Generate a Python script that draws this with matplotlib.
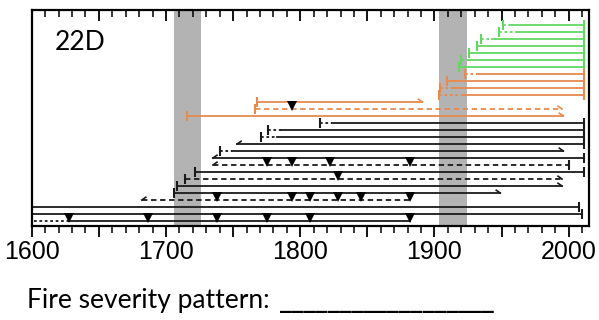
import matplotlib
matplotlib.use('Agg')
import matplotlib.pyplot as plt
from matplotlib.ticker import MultipleLocator, FuncFormatter

# one entry per tree, top row first
inner_year = [1951, 1948, 1935, 1932, 1926, 1920, 1918,
              1923, 1909, 1904, 1903, 1768, 1766, 1716,
              1815, 1776, 1771, 1753, 1740, 1735, 1735, 1722, 1714, 1708, 1706, 1682,
              1600, 1600, 1602]
first_ring = [1956, 1962, 1943, 1932, 1926, 1926, 1918,
              1932, 1909, 1914, 1921, 1768, 1766, 1716,
              1824, 1786, 1783, 1753, 1749, 1735, 1735, 1722, 1714, 1708, 1706, 1682,
              1600, 1600, 1628]
end_year = [2011, 2011, 2011, 2011, 2011, 2011, 2011,
            2011, 2011, 2011, 2011, 1891, 1995, 1996,
            2011, 2011, 2011, 2011, 1996, 2011, 2000, 2011, 1995, 1995, 1949, 1882,
            2008, 2010, 1882]
inner_type = ['pith'] * 17 + ['ring', 'pith', 'ring', 'ring', 'pith', 'pith', 'pith', 'pith', 'ring',
                               'none', 'none', 'none']
end_type = ['bark'] * 11 + ['ring', 'ring', 'ring',
                            'bark', 'bark', 'bark', 'bark', 'ring', 'bark', 'bark', 'bark', 'ring', 'ring',
                            'ring', 'none', 'bark', 'bark', 'none']
dashed = [False] * 12 + [True] + [False] * 7 + [True, False, True, False, False, True, False, False, False]
group = ['green'] * 7 + ['orange'] * 7 + ['black'] * 15

fire_scars = {
    12: [1794],
    20: [1775, 1794, 1822, 1882],
    22: [1828],
    25: [1738, 1794, 1807, 1828, 1845, 1882],
    28: [1628, 1687, 1738, 1775, 1807, 1882],
}
fire_years = [(1706, 1726), (1903, 1924)]

colors = {'green': '#62d862', 'orange': '#e88a4e', 'black': '#1a1a1a'}

fig = plt.figure(figsize=(5.99, 3.2), dpi=100)
ax = fig.add_axes([0.0529, 0.29375, 0.9309, 0.675])

for a, b in fire_years:
    ax.axvspan(a, b, color='#b3b3b3', lw=0, zorder=0)

n = len(inner_year)
for i in range(n):
    y = n - i
    c = colors[group[i]]
    lw = 1.3
    if first_ring[i] > inner_year[i]:
        ax.plot([inner_year[i], first_ring[i]], [y, y], color=c, lw=lw, ls=(0, (1.5, 1.5)))
    ax.plot([first_ring[i], end_year[i]], [y, y], color=c, lw=lw,
            ls=(0, (3, 2)) if dashed[i] else '-')
    if inner_type[i] == 'pith':
        ax.plot(inner_year[i], y, marker='|', ms=7, mew=1.5, color=c)
    elif inner_type[i] == 'ring':
        ax.plot([inner_year[i], inner_year[i] + 3], [y, y + 0.4], color=c, lw=1.2)
    if end_type[i] == 'bark':
        ax.plot(end_year[i], y, marker='|', ms=7, mew=1.5, color=c)
    elif end_type[i] == 'ring':
        ax.plot([end_year[i] - 3, end_year[i]], [y + 0.4, y], color=c, lw=1.2)
    for s in fire_scars.get(i, []):
        ax.plot(s, y + 0.4, marker='v', ms=7, color='black', mew=0)

ax.set_xlim(1600, 2015.3)
ax.set_ylim(0.29, 31.14)
ax.set_yticks([])
ax.xaxis.set_major_locator(MultipleLocator(50))
ax.xaxis.set_minor_locator(MultipleLocator(10))
ax.xaxis.set_major_formatter(FuncFormatter(lambda v, p: '%d' % v if v % 100 == 0 else ''))
ax.tick_params(axis='x', which='major', length=8, width=1.3, direction='out',
               top=True, labelsize=18, pad=2)
ax.tick_params(axis='x', which='minor', length=5, width=1.1, direction='out', top=True)
for t in ax.get_xticklabels():
    t.set_family('Liberation Sans')
for s in ax.spines.values():
    s.set_linewidth(1.6)
# ticks on top point inward
for tl in ax.xaxis.get_major_ticks() + ax.xaxis.get_minor_ticks():
    tl.tick2line.set_marker(3)

fig.text(0.092, 0.866, '22D', fontsize=19, family=['Lato', 'DejaVu Sans'], va='center')
fig.text(0.045, 0.06, 'Fire severity pattern:', fontsize=19,
         family=['Lato', 'DejaVu Sans'], va='center')
fig.text(0.468, 0.06, '__________________', fontsize=17, fontweight='bold',
         family='DejaVu Sans', va='center')

fig.savefig('out.png', dpi=100)
